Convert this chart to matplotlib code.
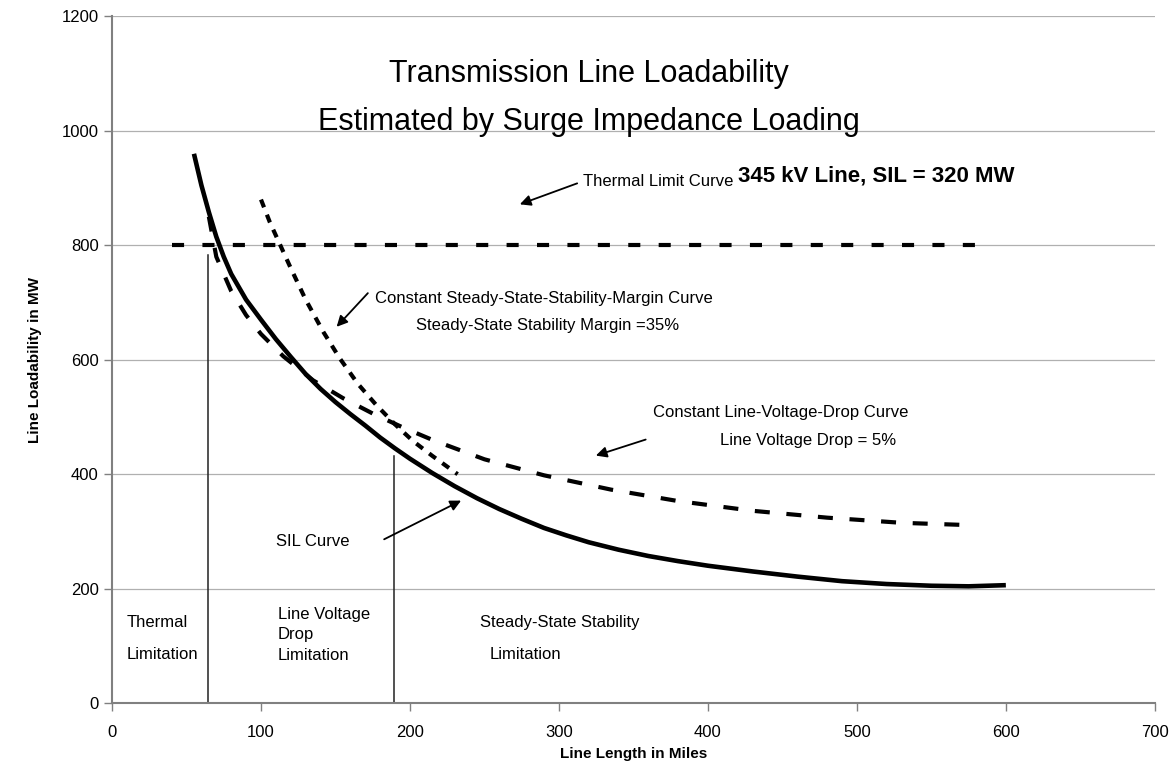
import matplotlib.pyplot as plt

plt.rcParams['font.family'] = ['Liberation Sans', 'DejaVu Sans']

# SIL curve (solid)
sil_miles = [55, 60, 65, 70, 75, 80, 90, 100, 110, 120, 130, 140, 150, 160, 170, 180,
             190, 200, 215, 230, 245, 260, 275, 290, 305, 320, 340, 360, 380, 400,
             430, 460, 490, 520, 550, 575, 600]
sil_mw = [960, 905, 858, 815, 780, 750, 705, 670, 636, 605, 575, 549, 526, 505, 485, 464,
          445, 427, 402, 379, 358, 339, 322, 306, 293, 281, 268, 257, 248, 240,
          230, 221, 213, 208, 205, 204, 206]

# constant steady-state-stability-margin curve (dotted)
ssm_miles = [100, 106, 113, 120, 130, 142, 153, 165, 177, 190, 202, 215, 232]
ssm_mw = [880, 840, 800, 760, 705, 648, 602, 558, 522, 487, 458, 432, 400]

# constant line-voltage-drop curve (dashed)
vd_miles = [65, 70, 80, 90, 100, 115, 135, 155, 175, 195, 215, 250, 290,
            335, 380, 430, 480, 530, 575]
vd_mw = [850, 780, 720, 678, 645, 606, 564, 533, 506, 482, 460, 426, 398,
         373, 353, 336, 324, 315, 311]

# thermal limit (horizontal)
thermal_miles = [40, 588]
thermal_mw = [800, 800]

# region boundaries
bound_miles = [64.5, 189.5]
bound_top = [783, 432]

fig = plt.figure(figsize=(11.73, 7.66), dpi=100)
ax = fig.add_axes([0.0955, 0.0822, 0.889, 0.8963])

ax.plot(sil_miles, sil_mw, color='black', lw=3.3, solid_capstyle='butt',
        solid_joinstyle='round', zorder=3)
ax.plot(ssm_miles, ssm_mw, color='black', lw=3.0, linestyle=(0, (2.0, 1.9)),
        dash_capstyle='butt', zorder=3)
ax.plot(vd_miles, vd_mw, color='black', lw=3.0, linestyle=(0, (3.6, 4.0)),
        dash_capstyle='butt', zorder=3)
ax.plot(thermal_miles, thermal_mw, color='black', lw=3.0, linestyle=(0, (2.9, 4.4)),
        dash_capstyle='butt', zorder=3)

for xm, top in zip(bound_miles, bound_top):
    ax.plot([xm, xm], [0, top], color='#222222', lw=1.1, zorder=2)

ax.set_xlim(0, 700)
ax.set_ylim(0, 1200)
ax.set_xticks(range(0, 701, 100))
ax.set_yticks(range(0, 1201, 200))
ax.yaxis.grid(True, color='#b0b0b0', lw=0.9)
ax.set_axisbelow(True)
for s in ['top', 'right']:
    ax.spines[s].set_visible(False)
for s in ['left', 'bottom']:
    ax.spines[s].set_color('#808080')
    ax.spines[s].set_linewidth(1.5)
ax.tick_params(axis='both', colors='#808080', labelcolor='black', labelsize=12,
               length=6, width=1)
ax.tick_params(axis='x', pad=10)

ax.set_xlabel('Line Length in Miles', fontsize=11, fontweight='bold', labelpad=5)
ax.set_ylabel('Line Loadability in MW', fontsize=11, fontweight='bold', labelpad=14)

ax.text(320, 1100, 'Transmission Line Loadability', fontsize=22, ha='center', va='center')
ax.text(320, 1015, 'Estimated by Surge Impedance Loading', fontsize=22, ha='center', va='center')

ax.text(420, 922, '345 kV Line, SIL = 320 MW', fontsize=16, fontweight='bold',
        ha='left', va='center')

fs = 12
ax.text(316, 912, 'Thermal Limit Curve', fontsize=fs, ha='left', va='center')
ax.text(176.5, 707, 'Constant Steady-State-Stability-Margin Curve', fontsize=fs,
        ha='left', va='center')
ax.text(204, 660, 'Steady-State Stability Margin =35%', fontsize=fs, ha='left', va='center')
ax.text(363, 507, 'Constant Line-Voltage-Drop Curve', fontsize=fs, ha='left', va='center')
ax.text(408, 458, 'Line Voltage Drop = 5%', fontsize=fs, ha='left', va='center')
ax.text(110, 283, 'SIL Curve', fontsize=fs, ha='left', va='center')

ax.text(10, 140, 'Thermal', fontsize=fs, ha='left', va='center')
ax.text(10, 84, 'Limitation', fontsize=fs, ha='left', va='center')
ax.text(111.5, 119, 'Line Voltage\nDrop\nLimitation', fontsize=fs, ha='left',
        va='center', linespacing=1.45)
ax.text(247, 140, 'Steady-State Stability', fontsize=fs, ha='left', va='center')
ax.text(253.5, 84, 'Limitation', fontsize=fs, ha='left', va='center')

arrow = dict(arrowstyle='-|>', color='black', lw=1.3, mutation_scale=16)
ax.annotate('', xy=(272, 870), xytext=(314, 910), arrowprops=arrow)
ax.annotate('', xy=(149.5, 654), xytext=(173, 720), arrowprops=arrow)
ax.annotate('', xy=(323, 431), xytext=(360, 462), arrowprops=arrow)
ax.annotate('', xy=(236, 356), xytext=(181, 284), arrowprops=arrow)

fig.savefig('out.png', dpi=100)
